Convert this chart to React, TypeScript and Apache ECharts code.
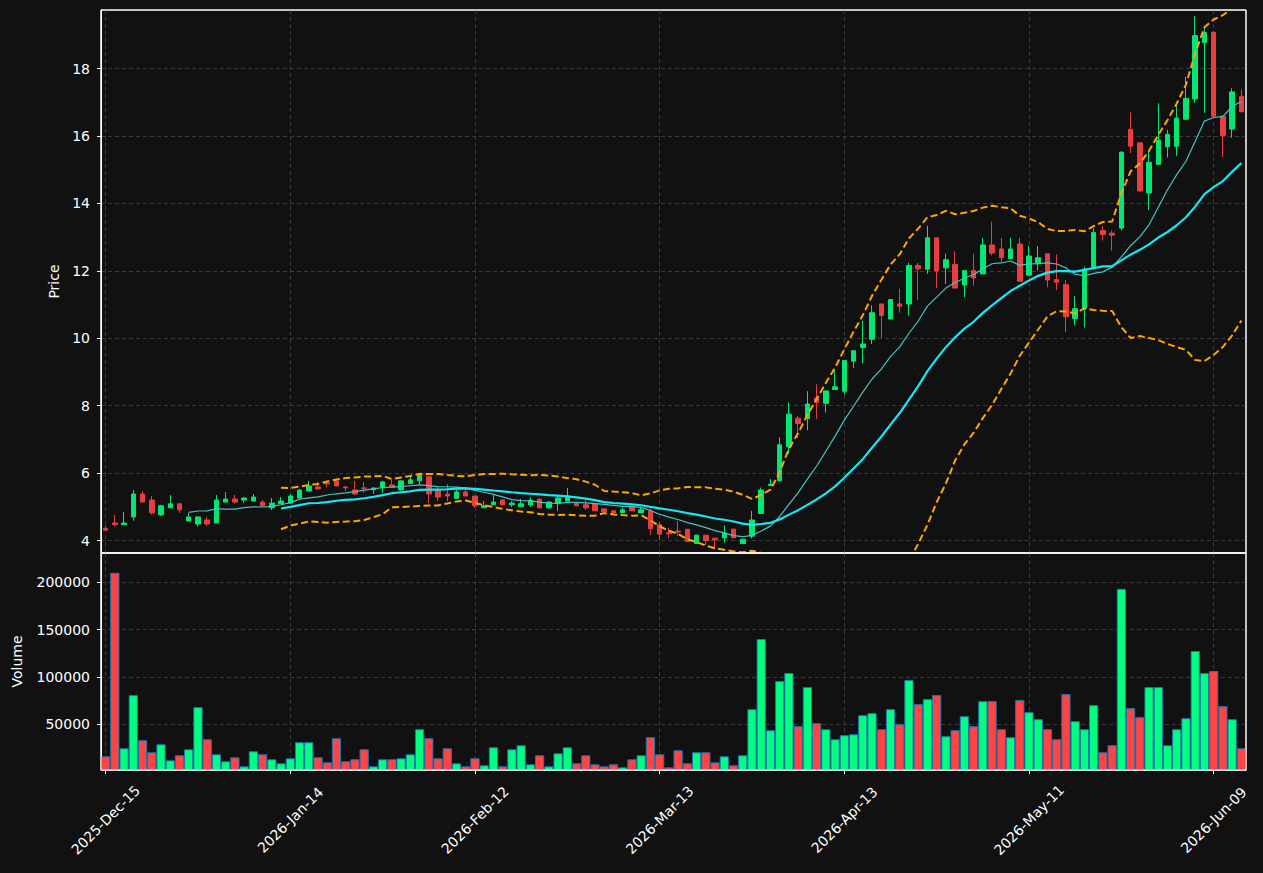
import { useEffect, useRef } from 'react';
import * as echarts from 'echarts';

// ---- Data ----
const tickLabels = ['2025-Dec-15', '2026-Jan-14', '2026-Feb-12', '2026-Mar-13', '2026-Apr-13', '2026-May-11', '2026-Jun-09'];
const holidays = ['2025-12-25', '2026-01-01', '2026-01-19', '2026-02-16', '2026-04-03', '2026-05-25'];
const startDate = '2025-12-15';
const barCount = 124;

const opens = [4.36, 4.52, 4.47, 4.70, 5.38, 5.20, 4.76, 4.97, 5.09, 4.58,
  4.49, 4.61, 4.52, 5.14, 5.23, 5.20, 5.17, 5.14, 4.97, 5.09,
  5.11, 5.26, 5.47, 5.59, 5.71, 5.77, 5.59, 5.50, 5.56, 5.51,
  5.59, 5.65, 5.50, 5.69, 5.77, 5.89, 5.50, 5.38, 5.25, 5.44,
  5.32, 4.97, 5.06, 5.20, 5.06, 5.00, 5.06, 5.23, 4.97, 5.11,
  5.17, 5.11, 5.06, 5.09, 4.94, 4.88, 4.82, 5.00, 4.82, 4.88,
  4.47, 4.23, 4.28, 4.33, 3.91, 4.16, 4.07, 4.08, 4.34, 3.91,
  4.13, 4.80, 5.63, 5.77, 6.78, 7.63, 7.62, 8.23, 8.07, 8.48,
  8.43, 9.32, 9.73, 9.97, 11.02, 10.57, 11.02, 11.02, 12.16, 12.05,
  12.98, 12.09, 12.19, 11.58, 12.01, 11.91, 12.77, 12.65, 12.36, 12.80,
  11.87, 12.23, 12.51, 11.74, 11.59, 10.59, 10.89, 12.11, 13.20, 13.12,
  13.27, 16.20, 15.80, 14.31, 15.16, 15.68, 15.70, 16.50, 17.10, 18.77,
  19.08, 16.59, 16.21, 17.18];
const closes = [4.31, 4.47, 4.52, 5.38, 5.14, 4.82, 5.03, 5.09, 4.91, 4.70,
  4.70, 4.49, 5.20, 5.23, 5.14, 5.26, 5.29, 5.03, 5.11, 5.17,
  5.32, 5.50, 5.62, 5.53, 5.68, 5.62, 5.56, 5.38, 5.55, 5.56,
  5.74, 5.59, 5.77, 5.80, 5.95, 5.38, 5.29, 5.32, 5.44, 5.32,
  5.03, 5.03, 5.14, 5.06, 5.11, 5.09, 5.20, 4.97, 5.14, 5.26,
  5.32, 5.03, 4.97, 4.88, 4.85, 4.82, 4.91, 4.88, 4.91, 4.35,
  4.19, 4.20, 4.25, 3.97, 4.16, 4.00, 4.02, 4.22, 4.08, 4.04,
  4.61, 5.50, 5.67, 6.84, 7.75, 7.47, 8.05, 8.10, 8.44, 8.56,
  9.34, 9.63, 9.83, 10.76, 10.68, 11.15, 10.95, 12.16, 12.06, 12.98,
  12.00, 12.33, 11.49, 12.01, 11.79, 12.77, 12.53, 12.39, 12.65, 11.69,
  12.44, 12.39, 11.73, 11.66, 10.64, 10.88, 12.05, 13.14, 13.08, 13.06,
  15.52, 15.70, 14.37, 15.22, 15.88, 16.05, 16.53, 17.12, 18.98, 19.07,
  16.59, 16.02, 17.31, 16.72];
const lows = [4.30, 4.42, 4.46, 4.59, 5.13, 4.77, 4.73, 4.97, 4.82, 4.58,
  4.41, 4.43, 4.52, 5.14, 5.09, 5.11, 5.17, 5.00, 4.91, 5.09,
  5.11, 5.24, 5.47, 5.53, 5.59, 5.61, 5.47, 5.35, 5.42, 5.38,
  5.41, 5.59, 5.48, 5.69, 5.68, 5.11, 5.17, 5.17, 5.25, 5.32,
  4.97, 4.97, 5.06, 5.06, 5.00, 5.00, 5.00, 4.96, 4.94, 4.88,
  5.17, 5.03, 4.91, 4.88, 4.85, 4.76, 4.82, 4.88, 4.82, 4.16,
  4.01, 4.08, 4.13, 3.96, 3.90, 3.87, 3.74, 3.94, 4.08, 3.91,
  4.06, 4.80, 5.62, 5.77, 6.57, 7.04, 7.27, 7.60, 7.80, 8.48,
  8.33, 9.12, 9.26, 9.83, 10.01, 10.56, 10.76, 10.67, 11.13, 11.91,
  11.50, 11.61, 11.49, 11.22, 11.56, 11.91, 12.46, 12.26, 12.36, 11.69,
  11.87, 12.01, 11.51, 11.43, 10.18, 10.38, 10.32, 12.11, 12.90, 12.60,
  13.20, 15.50, 14.37, 13.80, 15.16, 15.36, 15.41, 16.47, 16.99, 16.69,
  16.59, 15.38, 15.95, 16.72];
const highs = [4.43, 4.76, 4.85, 5.50, 5.47, 5.32, 5.06, 5.35, 5.09, 4.82,
  4.70, 4.70, 5.35, 5.44, 5.35, 5.29, 5.38, 5.20, 5.26, 5.29,
  5.38, 5.52, 5.77, 5.74, 5.77, 5.78, 5.62, 5.77, 5.74, 5.57,
  5.77, 5.80, 5.78, 5.89, 5.98, 5.90, 5.59, 5.68, 5.50, 5.53,
  5.32, 5.17, 5.35, 5.23, 5.17, 5.23, 5.29, 5.24, 5.17, 5.35,
  5.56, 5.11, 5.20, 5.09, 4.94, 4.88, 4.97, 5.00, 5.00, 4.97,
  4.55, 4.38, 4.58, 4.35, 4.17, 4.16, 4.07, 4.45, 4.34, 4.04,
  4.88, 5.57, 5.82, 7.06, 8.10, 7.70, 8.43, 8.63, 8.45, 9.04,
  9.35, 9.65, 10.52, 10.98, 11.02, 11.16, 11.47, 12.24, 12.23, 13.34,
  12.99, 12.51, 12.58, 12.02, 12.51, 12.98, 13.46, 12.98, 12.98, 12.98,
  12.74, 12.74, 12.51, 12.49, 11.73, 11.26, 12.13, 13.27, 13.33, 13.20,
  15.55, 16.70, 15.80, 15.53, 16.97, 16.19, 16.91, 17.76, 19.56, 19.24,
  19.10, 16.59, 17.42, 17.38];
const volumes = [16080, 210100, 24560, 80750, 33040, 20320, 28800, 11840, 17140, 23500,
  68030, 34100, 18200, 10780, 15020, 5480, 21380, 18200, 12900, 8660,
  13960, 30920, 30920, 15020, 9720, 35160, 10780, 12900, 23500, 5480,
  12900, 12900, 13960, 18200, 44700, 35160, 13960, 24560, 8660, 5480,
  13960, 6540, 25620, 5480, 23500, 27740, 7600, 17140, 5480, 19260,
  25620, 8660, 17140, 7600, 5480, 7600, 4420, 12900, 17140, 36220,
  18200, 4420, 22440, 8660, 20320, 20320, 9720, 16080, 6540, 17140,
  65910, 140100, 43640, 95600, 104080, 47890, 89230, 51070, 44700, 34100,
  38340, 39400, 59550, 61670, 44700, 65910, 50000, 96650, 71210, 76510,
  80750, 37280, 43640, 58490, 47890, 74390, 74390, 44700, 36220, 75450,
  62730, 55310, 44700, 34100, 81810, 53190, 44700, 70150, 20320, 27740,
  193130, 66970, 57430, 89230, 89230, 27740, 44700, 56370, 127400, 104080,
  106200, 69090, 55310, 24560];

// ---- Helpers ----
const MONTHS = ['Jan', 'Feb', 'Mar', 'Apr', 'May', 'Jun', 'Jul', 'Aug', 'Sep', 'Oct', 'Nov', 'Dec'];
function tradingDates(start: string, count: number, skip: string[]): string[] {
  const out: string[] = [];
  const d = new Date(start + 'T00:00:00Z');
  while (out.length < count) {
    const iso = d.toISOString().slice(0, 10);
    const wd = d.getUTCDay();
    if (wd !== 0 && wd !== 6 && skip.indexOf(iso) < 0) {
      out.push(`${d.getUTCFullYear()}-${MONTHS[d.getUTCMonth()]}-${String(d.getUTCDate()).padStart(2, '0')}`);
    }
    d.setUTCDate(d.getUTCDate() + 1);
  }
  return out;
}
const mean = (w: number[]) => w.reduce((a, b) => a + b, 0) / w.length;
const pstd = (w: number[]) => {
  const m = mean(w);
  return Math.sqrt(w.reduce((a, b) => a + (b - m) * (b - m), 0) / w.length);
};
function rolling(arr: number[], n: number, fn: (w: number[]) => number) {
  return arr.map((_, i) => (i < n - 1 ? '-' : +fn(arr.slice(i - n + 1, i + 1)).toFixed(4)));
}

const UP = '#02e774';
const DOWN = '#e73f3f';
const VOL_UP = '#00ff80';
const VOL_DOWN = '#ff4444';
const GRID_LINE = { color: '#3a3a3a', type: [4, 3], width: 1 };
const FONT = 'DejaVu Sans';

const PRICE_GRID = { left: 101, top: 10, width: 1145, height: 543 };
const VOL_GRID = { left: 101, top: 553, width: 1145, height: 217 };

export default function App() {
  const ref = useRef<HTMLDivElement>(null);
  useEffect(() => {
    if (!ref.current) return;
    const chart = echarts.init(ref.current, null, { renderer: 'svg' });
    const dates = tradingDates(startDate, barCount, holidays);
    const every20 = (i: number) => i % 20 === 0;
    const ma10 = rolling(closes, 10, mean);
    const ma20 = rolling(closes, 20, mean);
    const upper = rolling(closes, 20, (w) => mean(w) + 2 * pstd(w));
    const lower = rolling(closes, 20, (w) => mean(w) - 2 * pstd(w));

    chart.setOption({
      animation: false,
      backgroundColor: '#111111',
      textStyle: { fontFamily: FONT },
      grid: [
        { ...PRICE_GRID, show: true, borderColor: '#ffffff', borderWidth: 1, backgroundColor: 'transparent' },
        { ...VOL_GRID, show: true, borderColor: '#ffffff', borderWidth: 1, backgroundColor: 'transparent' },
      ],
      graphic: [
        {
          type: 'rect', z: 100, silent: true,
          shape: { x: PRICE_GRID.left, y: PRICE_GRID.top, width: PRICE_GRID.width, height: PRICE_GRID.height },
          style: { fill: 'none', stroke: '#ffffff', lineWidth: 1 },
        },
        {
          type: 'rect', z: 100, silent: true,
          shape: { x: VOL_GRID.left, y: VOL_GRID.top, width: VOL_GRID.width, height: VOL_GRID.height },
          style: { fill: 'none', stroke: '#ffffff', lineWidth: 1 },
        },
      ],
      xAxis: [
        {
          type: 'category', gridIndex: 0, data: dates, boundaryGap: true,
          axisLine: { show: false }, axisTick: { show: false }, axisLabel: { show: false },
          splitLine: { show: true, interval: every20, alignWithLabel: true, lineStyle: GRID_LINE },
        },
        {
          type: 'category', gridIndex: 1, data: dates, boundaryGap: true,
          axisLine: { show: true, lineStyle: { color: '#ffffff' } },
          axisTick: { show: true, alignWithLabel: true, interval: every20, length: 4, lineStyle: { color: '#ffffff' } },
          axisLabel: {
            interval: every20, rotate: 45, color: '#ffffff', fontSize: 14, fontFamily: FONT,
            align: 'center', verticalAlign: 'middle', margin: 50,
            formatter: (v: string) => v,
          },
          splitLine: { show: true, interval: every20, alignWithLabel: true, lineStyle: GRID_LINE },
        },
      ],
      yAxis: [
        {
          type: 'value', gridIndex: 0, min: 3.63, max: 19.74, splitNumber: 8,
          name: 'Price', nameLocation: 'middle', nameGap: 36,
          nameTextStyle: { color: '#ffffff', fontSize: 14, fontFamily: FONT },
          axisLine: { show: true, lineStyle: { color: '#ffffff' } },
          axisTick: { show: true, length: 4, lineStyle: { color: '#ffffff' } },
          axisLabel: { color: '#ffffff', fontSize: 14, fontFamily: FONT, margin: 11, showMinLabel: false, showMaxLabel: false, formatter: (v: number) => String(v) },
          splitLine: { show: true, showMinLine: false, showMaxLine: false, lineStyle: GRID_LINE },
        },
        {
          type: 'value', gridIndex: 1, min: 1600, max: 231000, splitNumber: 5,
          name: 'Volume', nameLocation: 'middle', nameGap: 77,
          nameTextStyle: { color: '#ffffff', fontSize: 14, fontFamily: FONT },
          axisLine: { show: true, lineStyle: { color: '#ffffff' } },
          axisTick: { show: true, length: 4, lineStyle: { color: '#ffffff' } },
          axisLabel: { color: '#ffffff', fontSize: 14, fontFamily: FONT, margin: 11, showMinLabel: false, showMaxLabel: false, formatter: (v: number) => String(v) },
          splitLine: { show: true, showMinLine: false, showMaxLine: false, lineStyle: GRID_LINE },
        },
      ],
      series: [
        {
          type: 'candlestick', xAxisIndex: 0, yAxisIndex: 0, barWidth: 5, z: 2,
          data: opens.map((o, i) => [o, closes[i], lows[i], highs[i]]),
          itemStyle: { color: UP, color0: DOWN, borderColor: UP, borderColor0: DOWN, borderWidth: 1 },
        },
        {
          type: 'line', xAxisIndex: 0, yAxisIndex: 0, data: ma10, symbol: 'none', clip: true, z: 3,
          lineStyle: { color: '#45c4c4', width: 1.2 },
        },
        {
          type: 'line', xAxisIndex: 0, yAxisIndex: 0, data: ma20, symbol: 'none', clip: true, z: 3,
          lineStyle: { color: '#14e8f4', width: 2.2 },
        },
        {
          type: 'line', xAxisIndex: 0, yAxisIndex: 0, data: upper, symbol: 'none', clip: true, z: 3,
          lineStyle: { color: '#ffa500', width: 2, type: [7, 3.5] },
        },
        {
          type: 'line', xAxisIndex: 0, yAxisIndex: 0, data: lower, symbol: 'none', clip: true, z: 3,
          lineStyle: { color: '#ffa500', width: 2, type: [7, 3.5] },
        },
        {
          type: 'bar', xAxisIndex: 1, yAxisIndex: 1, barWidth: '100%', barCategoryGap: '0%',
          data: volumes.map((v, i) => ({
            value: v,
            itemStyle: { color: closes[i] >= opens[i] ? VOL_UP : VOL_DOWN },
          })),
          itemStyle: { borderColor: '#1f77b4', borderWidth: 1 },
        },
      ],
    });
    return () => chart.dispose();
  }, []);
  return <div ref={ref} style={{ position: 'fixed', left: 0, top: 0, width: 1263, height: 873 }} />;
}
